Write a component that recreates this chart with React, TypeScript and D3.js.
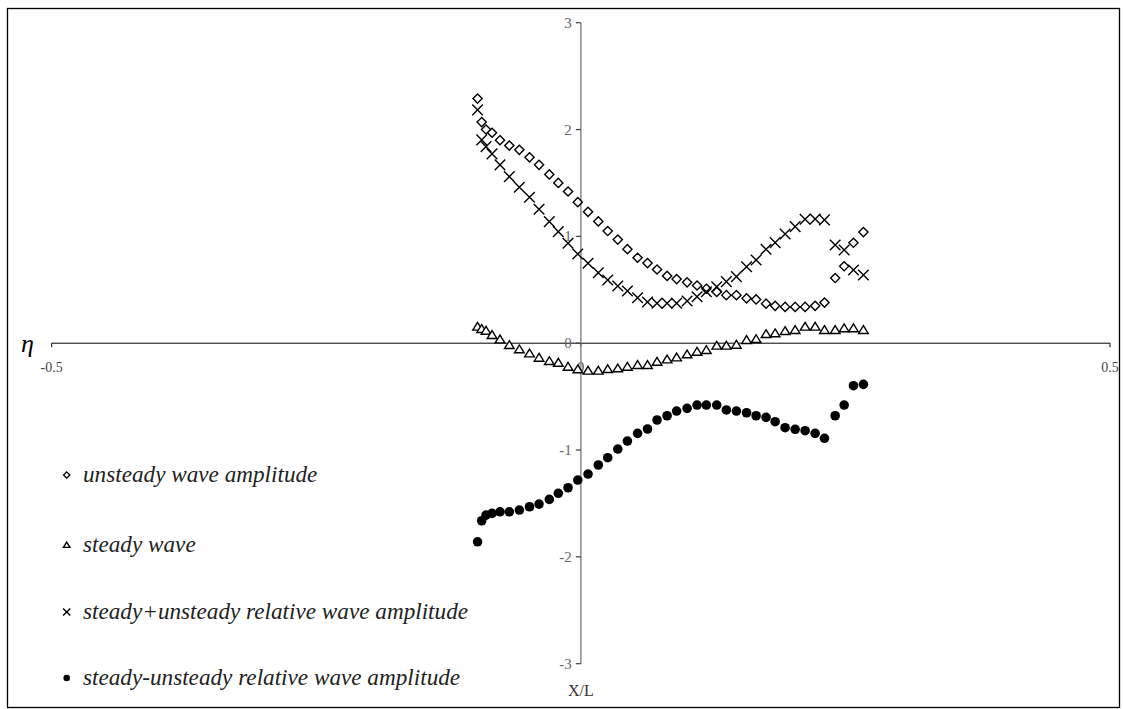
import React from "react";
import * as d3 from "d3";

// Station positions along the hull (X/L), shared by all four series
const stations = [
  -0.0976, -0.0937, -0.0896, -0.0839, -0.0764, -0.0676, -0.0581, -0.0485, -0.0395, -0.0298,
  -0.0213, -0.0121, -0.0029, 0.0068, 0.0165, 0.0254, 0.0349, 0.044, 0.0536, 0.063,
  0.072, 0.0815, 0.0905, 0.1004, 0.1098, 0.1186, 0.1284, 0.1375, 0.147, 0.1566,
  0.1656, 0.175, 0.1836, 0.193, 0.2025, 0.2119, 0.2214, 0.2302, 0.2403, 0.2488,
  0.2576, 0.267,
];

const unsteadyAmp = [
  2.29, 2.07, 2.0, 1.97, 1.9, 1.85, 1.81, 1.74, 1.67, 1.58,
  1.5, 1.42, 1.32, 1.23, 1.14, 1.05, 0.97, 0.88, 0.8, 0.75,
  0.69, 0.63, 0.6, 0.57, 0.54, 0.51, 0.48, 0.45, 0.45, 0.42,
  0.41, 0.37, 0.35, 0.34, 0.34, 0.34, 0.35, 0.38, 0.61, 0.72,
  0.94, 1.04,
];

const steadyWave = [
  0.155, 0.133, 0.117, 0.077, 0.036, -0.017, -0.057, -0.095, -0.136, -0.167,
  -0.183, -0.22, -0.244, -0.257, -0.257, -0.242, -0.235, -0.22, -0.204, -0.204,
  -0.173, -0.151, -0.133, -0.104, -0.08, -0.064, -0.023, -0.023, -0.014, 0.03,
  0.039, 0.086, 0.093, 0.114, 0.124, 0.155, 0.155, 0.124, 0.124, 0.14,
  0.14, 0.124,
];

const sumRelative = [
  2.184, 1.903, 1.84, 1.772, 1.669, 1.559, 1.46, 1.366, 1.254, 1.138,
  1.044, 0.935, 0.835, 0.748, 0.66, 0.592, 0.536, 0.489, 0.426, 0.386,
  0.374, 0.374, 0.374, 0.395, 0.435, 0.482, 0.529, 0.576, 0.623, 0.716,
  0.779, 0.879, 0.941, 1.022, 1.091, 1.16, 1.163, 1.154, 0.919, 0.873,
  0.685, 0.639,
];

const diffRelative = [
  -1.859, -1.662, -1.609, -1.593, -1.578, -1.578, -1.562, -1.531, -1.506, -1.462,
  -1.405, -1.353, -1.281, -1.225, -1.14, -1.072, -0.991, -0.916, -0.844, -0.803,
  -0.719, -0.679, -0.635, -0.61, -0.579, -0.579, -0.579, -0.625, -0.635, -0.651,
  -0.679, -0.694, -0.735, -0.791, -0.806, -0.819, -0.844, -0.89, -0.679, -0.579,
  -0.398, -0.385,
];

const xTicks = [-0.5, 0, 0.5];
const yTicks = [-3, -2, -1, 0, 1, 2, 3];

const legendLabels = [
  "unsteady wave amplitude",
  "steady wave",
  "steady+unsteady relative wave amplitude",
  "steady-unsteady relative wave amplitude",
];

type Shape = "diamond" | "triangle" | "cross" | "circle";
const seriesShapes: Shape[] = ["diamond", "triangle", "cross", "circle"];
const seriesValues = [unsteadyAmp, steadyWave, sumRelative, diffRelative];

const W = 1123;
const H = 709;

const x = d3.scaleLinear().domain([-0.5, 0.5]).range([51.7, 1110]);
const y = d3.scaleLinear().domain([-3, 3]).range([663.7, 22.7]);

function Marker({ shape, cx, cy, s }: { shape: Shape; cx: number; cy: number; s: number }) {
  if (shape === "diamond") {
    const r = 4.6 * s;
    return (
      <path
        d={`M${cx},${cy - r}L${cx + r},${cy}L${cx},${cy + r}L${cx - r},${cy}Z`}
        fill="#fff"
        stroke="#000"
        strokeWidth={1.4}
      />
    );
  }
  if (shape === "triangle") {
    const hw = 4.8 * s;
    const h = 7.8 * s;
    return (
      <path
        d={`M${cx},${cy - h * 0.55}L${cx + hw},${cy + h * 0.45}L${cx - hw},${cy + h * 0.45}Z`}
        fill="#fff"
        stroke="#000"
        strokeWidth={1.4}
      />
    );
  }
  if (shape === "cross") {
    const r = 5.3 * s;
    return (
      <path
        d={`M${cx - r},${cy - r}L${cx + r},${cy + r}M${cx - r},${cy + r}L${cx + r},${cy - r}`}
        fill="none"
        stroke="#000"
        strokeWidth={1.4}
      />
    );
  }
  return <circle cx={cx} cy={cy} r={4.8 * s} fill="#000" />;
}

export default function App() {
  const x0 = x(0);
  const y0 = y(0);
  const legendRows = [475, 545, 612, 678];

  return (
    <svg
      width={W}
      height={H}
      style={{ position: "absolute", left: 0, top: 0, background: "#fff" }}
      fontFamily="'Liberation Serif', 'Times New Roman', serif"
    >
      <rect x={7.5} y={8.5} width={1112} height={699} fill="#fff" stroke="#000" strokeWidth={1.3} />

      {/* horizontal axis */}
      <line x1={x(-0.5)} x2={x(0.5)} y1={y0} y2={y0} stroke="#000" strokeWidth={1} />
      {xTicks.map((t) => (
        <g key={`xt${t}`}>
          <line x1={x(t)} x2={x(t)} y1={y0} y2={y0 + 4} stroke="#000" strokeWidth={1} />
          <text x={x(t)} y={y0 + 29} textAnchor="middle" fontSize={14} fill="#444">
            {t}
          </text>
        </g>
      ))}

      {/* vertical axis */}
      <line x1={x0} x2={x0} y1={y(3)} y2={y(-3)} stroke="#808080" strokeWidth={1.4} />
      {yTicks.map((t) => (
        <g key={`yt${t}`}>
          <line x1={x0 - 5} x2={x0} y1={y(t)} y2={y(t)} stroke="#404040" strokeWidth={1.2} />
          <text x={x0 - 9} y={y(t) + 5} textAnchor="end" fontSize={15} fill="#666">
            {t}
          </text>
        </g>
      ))}

      <text x={21} y={352} fontSize={26} fontStyle="italic" fill="#000">
        η
      </text>
      <text x={x0} y={696} textAnchor="middle" fontSize={16} fill="#333">
        X/L
      </text>

      {/* data series */}
      {seriesValues.map((vals, si) => (
        <g key={`s${si}`}>
          {vals.map((v, i) => (
            <Marker key={i} shape={seriesShapes[si]} cx={x(stations[i])} cy={y(v)} s={1} />
          ))}
        </g>
      ))}

      {/* legend */}
      {legendLabels.map((lab, i) => (
        <g key={`lg${i}`}>
          <Marker shape={seriesShapes[i]} cx={66.7} cy={legendRows[i]} s={0.68} />
          <text x={83} y={legendRows[i] + 7} fontSize={23.2} fontStyle="italic" fill="#222">
            {lab}
          </text>
        </g>
      ))}
    </svg>
  );
}
